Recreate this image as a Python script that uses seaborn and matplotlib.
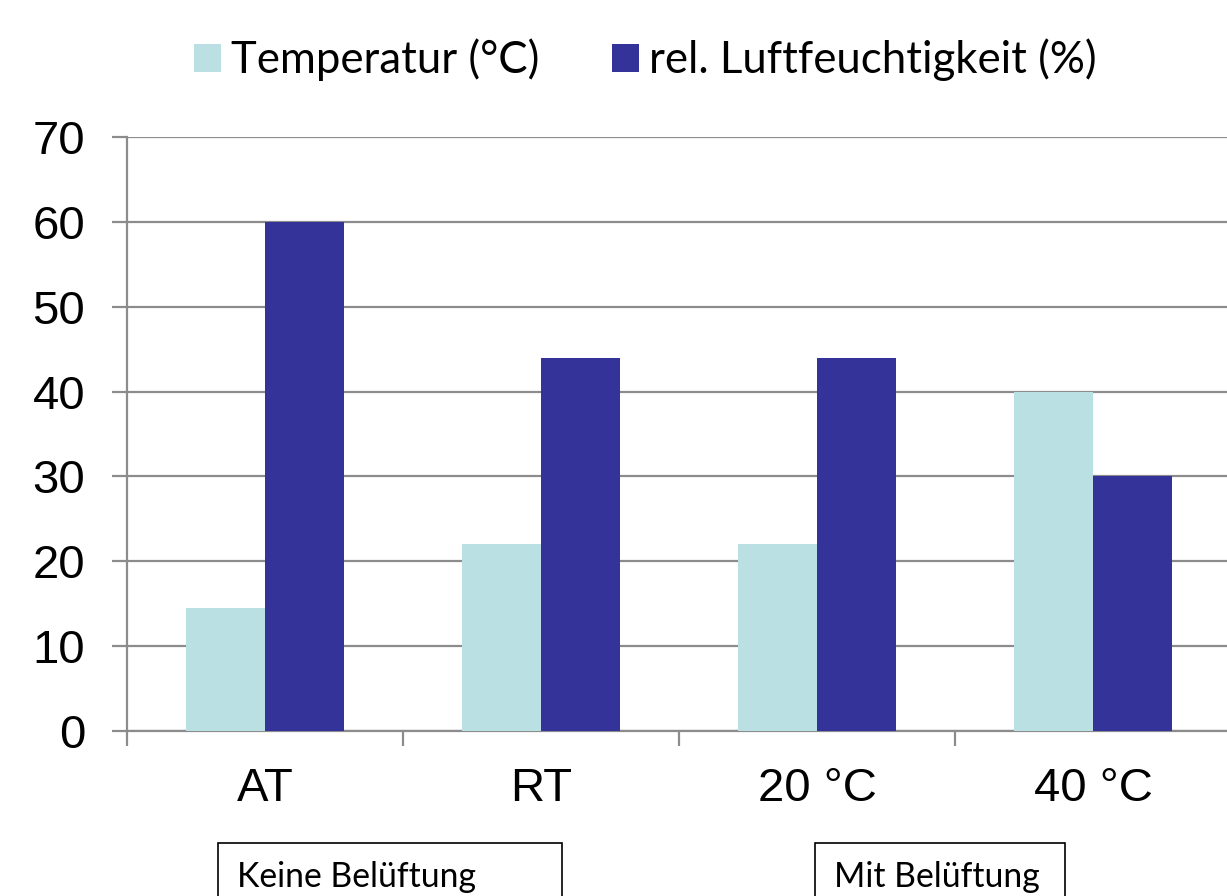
import pandas as pd
import matplotlib.pyplot as plt
import seaborn as sns
from matplotlib.patches import Rectangle

# Daten
bedingungen = ['AT', 'RT', '20 °C', '40 °C']
temperatur = [14.5, 22, 22, 40]
feuchte = [60, 44, 44, 30]
serien = ['Temperatur (°C)', 'rel. Luftfeuchtigkeit (%)']
gruppen = ['Keine Belüftung', 'Mit Belüftung']
y_ticks = [0, 10, 20, 30, 40, 50, 60, 70]

df = pd.DataFrame({
    'Bedingung': bedingungen * 2,
    'Wert': temperatur + feuchte,
    'Serie': [serien[0]] * 4 + [serien[1]] * 4,
})

farben = ['#BAE0E4', '#333399']
grau = '#8C8C8C'

sns.set_theme(style='white')
plt.rcParams['font.family'] = ['Liberation Sans', 'DejaVu Sans']
plt.rcParams['text.color'] = 'black'
plt.rcParams['xtick.labelcolor'] = 'black'
plt.rcParams['ytick.labelcolor'] = 'black'

fig = plt.figure(figsize=(12.27, 8.96), dpi=100)
ax = fig.add_axes([127 / 1227, 1 - 731 / 896, 1104 / 1227, 594 / 896])

sns.barplot(data=df, x='Bedingung', y='Wert', hue='Serie', palette=farben,
            width=0.574, gap=0, saturation=1, linewidth=0, ax=ax, zorder=3)

ax.set_ylim(0, 70)
ax.set_xlim(-0.5, 3.5)
ax.set_yticks(y_ticks)
ax.set_yticklabels([str(t) for t in y_ticks], fontsize=34)
ax.yaxis.grid(True, color=grau, linewidth=1.6, zorder=0)
ax.tick_params(axis='y', length=11, width=1.6, color=grau, pad=19, left=True)

# Kategoriegrenzen als Haupt-Ticks, Beschriftung in der Mitte
ax.set_xticks([-0.5, 0.5, 1.5, 2.5, 3.5])
ax.set_xticklabels([])
ax.set_xticks(range(len(bedingungen)), minor=True)
ax.set_xticklabels(bedingungen, minor=True, fontsize=34)
ax.tick_params(axis='x', which='major', length=11, width=1.6, color=grau, bottom=True)
ax.tick_params(axis='x', which='minor', length=0, pad=26)
ax.set_xlabel('')
ax.set_ylabel('')

for s in ['top', 'right']:
    ax.spines[s].set_visible(False)
for s in ['left', 'bottom']:
    ax.spines[s].set_color(grau)
    ax.spines[s].set_linewidth(1.6)

# Legende oben
handles, labels = ax.get_legend_handles_labels()
ax.legend_.remove()
fig.legend(handles, labels, loc='center', bbox_to_anchor=(0.526, 0.933), ncol=2,
           frameon=False, prop={'family': 'Lato', 'size': 31.5},
           handlelength=0.62, handleheight=0.62, handletextpad=0.23, columnspacing=1.65)

# Gruppenboxen unten
boxen = [(218, 562), (815, 1065)]
for (x0, x1), name in zip(boxen, gruppen):
    fig.patches.append(Rectangle((x0 / 1227, -0.02), (x1 - x0) / 1227, (896 - 843) / 896 + 0.02,
                                 transform=fig.transFigure, fill=False,
                                 edgecolor='black', linewidth=1.2))
    fig.text((x0 + 19) / 1227, 1 - 887 / 896, name, fontsize=24.3, family='Lato',
             ha='left', va='baseline', color='black')

fig.savefig('out.png', dpi=100)
